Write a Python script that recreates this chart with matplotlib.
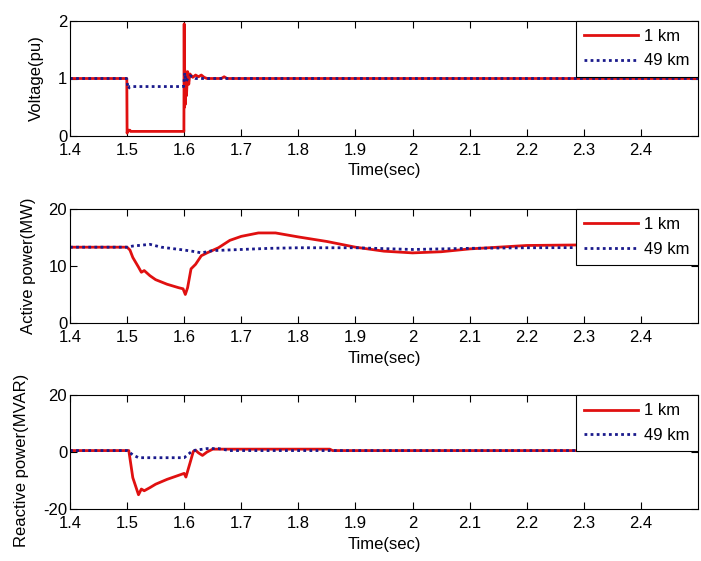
import matplotlib.pyplot as plt

plt.rcParams['font.family'] = ['Liberation Sans', 'DejaVu Sans']
plt.rcParams['axes.unicode_minus'] = False

# voltage (pu)
v1_t = [1.4, 1.4995, 1.5, 1.501, 1.505, 1.506, 1.599, 1.5995, 1.6, 1.6005, 1.601, 1.602, 1.603, 1.604,
        1.606, 1.608, 1.61, 1.615, 1.62, 1.625, 1.63, 1.635, 1.64, 1.665, 1.67, 1.675, 2.5]
v1 = [1.0, 1.0, 0.05, 0.1, 0.1, 0.08, 0.08, 0.08, 1.95, 0.5, 1.15, 0.55, 1.1, 0.7,
      1.12, 0.9, 1.08, 1.02, 1.06, 1.03, 1.06, 1.02, 1.0, 1.0, 1.03, 1.0, 1.0]
v49_t = [1.4, 1.499, 1.502, 1.505, 1.51, 1.599, 1.601, 1.603, 1.61, 1.62, 2.5]
v49 = [1.0, 1.0, 0.82, 0.86, 0.86, 0.86, 1.1, 0.95, 1.05, 1.0, 1.0]

# active power (MW)
p1_t = [1.4, 1.5, 1.505, 1.51, 1.52, 1.525, 1.53, 1.54, 1.55, 1.57, 1.59, 1.598, 1.602, 1.606,
        1.612, 1.62, 1.63, 1.64, 1.66, 1.68, 1.7, 1.73, 1.76, 1.8, 1.85, 1.9, 1.95, 2.0, 2.05,
        2.1, 2.15, 2.2, 2.3, 2.5]
p1 = [13.3, 13.3, 12.8, 11.5, 9.8, 8.9, 9.2, 8.3, 7.6, 6.8, 6.2, 6.0, 5.0, 6.2,
      9.5, 10.3, 11.8, 12.3, 13.2, 14.5, 15.2, 15.8, 15.8, 15.1, 14.3, 13.3, 12.6, 12.3, 12.5,
      13.0, 13.3, 13.6, 13.7, 13.7]
p49_t = [1.4, 1.5, 1.51, 1.54, 1.56, 1.6, 1.62, 1.63, 1.65, 1.7, 1.75, 1.8, 1.9, 2.0, 2.1, 2.2, 2.5]
p49 = [13.3, 13.3, 13.5, 13.8, 13.3, 12.8, 12.5, 12.3, 12.7, 12.9, 13.1, 13.2, 13.2, 12.9, 13.1, 13.2, 13.3]

# reactive power (MVAR)
q1_t = [1.4, 1.503, 1.51, 1.52, 1.525, 1.53, 1.54, 1.55, 1.57, 1.59, 1.6, 1.603, 1.61, 1.616,
        1.62, 1.625, 1.632, 1.64, 1.65, 1.7, 1.855, 1.86, 2.5]
q1 = [0.5, 0.5, -9.0, -15.0, -13.0, -13.6, -12.5, -11.3, -9.6, -8.2, -7.5, -8.8, -4.0, 0.2,
      0.6, -0.3, -1.2, 0.0, 1.0, 1.0, 1.0, 0.5, 0.5]
q49_t = [1.4, 1.5, 1.51, 1.52, 1.6, 1.615, 1.64, 1.66, 1.68, 2.5]
q49 = [0.5, 0.5, -1.0, -2.0, -2.0, 0.5, 1.2, 1.2, 0.5, 0.5]

panels = [
    (v1_t, v1, v49_t, v49, (0, 2), [0, 1, 2], 'Voltage(pu)'),
    (p1_t, p1, p49_t, p49, (0, 20), [0, 10, 20], 'Active power(MW)'),
    (q1_t, q1, q49_t, q49, (-20, 20), [-20, 0, 20], 'Reactive power(MVAR)'),
]
W, H = 701, 561
rects = [(70, 21, 628, 115), (70, 209, 628, 114), (70, 395, 628, 114)]
ylab_pos = [(44, 0.5), (36, 0.5), (29, 0.43)]

fig = plt.figure(figsize=(W / 100, H / 100), dpi=100)
xticks = [1.4, 1.5, 1.6, 1.7, 1.8, 1.9, 2.0, 2.1, 2.2, 2.3, 2.4]
xticklabels = ['1.4', '1.5', '1.6', '1.7', '1.8', '1.9', '2', '2.1', '2.2', '2.3', '2.4']

for (t1, y1, t2, y2, ylim, yticks, ylabel), (x, y, w, h), (lx, ly) in zip(panels, rects, ylab_pos):
    ax = fig.add_axes([x / W, 1 - (y + h) / H, w / W, h / H])
    ax.plot(t1, y1, color='#e01010', lw=2, label='1 km')
    ax.plot(t2, y2, color='#1a1a8c', lw=2, ls=(0, (1, 1.2)), label='49 km')
    ax.set_xlim(1.4, 2.5)
    ax.set_ylim(*ylim)
    ax.set_xticks(xticks)
    ax.set_xticklabels(xticklabels)
    ax.set_yticks(yticks)
    ax.tick_params(direction='in', top=True, right=True, labelsize=12, length=5, width=0.8)
    ax.tick_params(axis='x', pad=5)
    ax.tick_params(axis='y', pad=2)
    for s in ax.spines.values():
        s.set_linewidth(0.8)
    ax.set_xlabel('Time(sec)', fontsize=12, labelpad=4)
    ax.set_ylabel(ylabel, fontsize=12)
    ax.yaxis.set_label_coords((lx - x) / w, ly)
    leg = ax.legend(loc='upper right', fontsize=12, frameon=True, fancybox=False,
                    framealpha=1, edgecolor='black', borderaxespad=0, handlelength=3.2,
                    handletextpad=0.4, borderpad=0.5, labelspacing=0.55)
    leg.get_frame().set_linewidth(0.8)

fig.savefig('out.png', dpi=100)
